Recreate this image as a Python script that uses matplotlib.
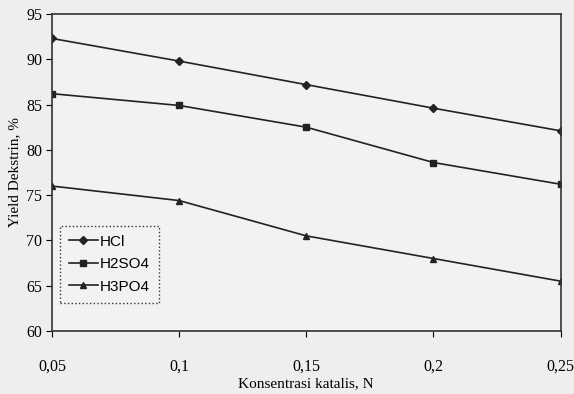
import matplotlib.pyplot as plt
from matplotlib.ticker import FuncFormatter

konsentrasi = [0.05, 0.1, 0.15, 0.2, 0.25]
hcl = [92.3, 89.8, 87.2, 84.6, 82.1]
h2so4 = [86.2, 84.9, 82.5, 78.6, 76.2]
h3po4 = [76.0, 74.4, 70.5, 68.0, 65.5]

x_ticks = [0.05, 0.1, 0.15, 0.2, 0.25]
y_ticks = [60, 65, 70, 75, 80, 85, 90, 95]

serif = 'Liberation Serif'
sans = 'Liberation Sans'

fig = plt.figure(figsize=(5.74, 3.94), dpi=100, facecolor='#eeeeee')
ax = fig.add_axes([0.0906, 0.160, 0.886, 0.8045])
ax.set_facecolor('#f2f2f2')

ax.plot(konsentrasi, hcl, '-D', color='#222222', lw=1.2, ms=4, label='HCl')
ax.plot(konsentrasi, h2so4, '-s', color='#222222', lw=1.2, ms=5, label='H2SO4')
ax.plot(konsentrasi, h3po4, '-^', color='#222222', lw=1.2, ms=5, label='H3PO4')

ax.set_xlim(0.05, 0.25)
ax.set_ylim(60, 95)
ax.set_xticks(x_ticks)
ax.set_yticks(y_ticks)
ax.xaxis.set_major_formatter(FuncFormatter(lambda v, p: ('%g' % v).replace('.', ',')))
ax.tick_params(axis='x', direction='out', length=4, pad=16, labelsize=11.5)
ax.tick_params(axis='y', direction='out', length=4, pad=3, labelsize=11.5)
for lab in ax.get_xticklabels() + ax.get_yticklabels():
    lab.set_fontfamily(serif)
for s in ax.spines.values():
    s.set_color('#333333')
    s.set_linewidth(1.2)

ax.set_xlabel('Konsentrasi katalis, N', fontfamily=serif, fontsize=11, labelpad=2)
ax.set_ylabel('Yield Dekstrin, %', fontfamily=serif, fontsize=11, labelpad=4)

leg = ax.legend(loc='lower left', bbox_to_anchor=(0.0, 0.065), prop={'family': sans, 'size': 11},
                fancybox=False, framealpha=1, edgecolor='#333333', facecolor='#f2f2f2',
                handlelength=1.9, handletextpad=0.1, labelspacing=0.55, borderpad=0.6)
leg.get_frame().set_linestyle(':')
leg.get_frame().set_linewidth(1.0)

fig.savefig('out.png', dpi=100, facecolor=fig.get_facecolor())
